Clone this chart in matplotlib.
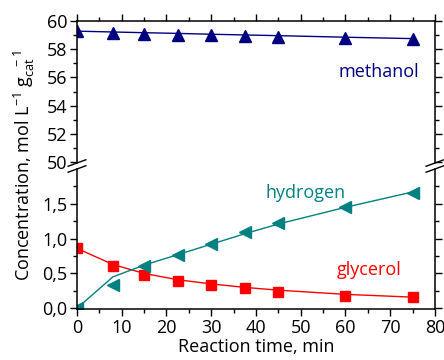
import numpy as np
import matplotlib
matplotlib.use("Agg")
import matplotlib.pyplot as plt
from matplotlib.ticker import MultipleLocator, FuncFormatter

plt.rcParams['font.family'] = ['Open Sans', 'DejaVu Sans']
plt.rcParams['mathtext.fontset'] = 'custom'
plt.rcParams['mathtext.rm'] = 'Open Sans'
plt.rcParams['mathtext.it'] = 'Open Sans'

# data
time = [0, 8, 15, 22.5, 30, 37.5, 45, 60, 75]
methanol = [59.31, 59.13, 59.08, 59.03, 58.99, 58.94, 58.90, 58.77, 58.70]
methanol_fit = [59.28, 59.22, 59.17, 59.12, 59.06, 59.01, 58.96, 58.85, 58.75]
glycerol = [0.86, 0.60, 0.48, 0.39, 0.34, 0.29, 0.235, 0.17, 0.16]
glycerol_fit = [0.86, 0.63, 0.50, 0.41, 0.35, 0.30, 0.26, 0.20, 0.16]
hydrogen = [0.0, 0.33, 0.61, 0.765, 0.93, 1.09, 1.22, 1.45, 1.65]
hydrogen_fit = [0.0, 0.45, 0.62, 0.77, 0.92, 1.07, 1.21, 1.45, 1.67]

navy = '#000080'
teal = '#008080'
red = '#ff0000'

fig = plt.figure(figsize=(4.44, 3.60), dpi=100)
ax_top = fig.add_axes([0.1734, 0.5472, 0.8063, 0.3945])
ax_bot = fig.add_axes([0.1734, 0.1417, 0.8063, 0.3889])

ax_top.plot(time, methanol_fit, color=navy, lw=1.0)
ax_top.plot(time, methanol, ls='none', marker='^', ms=8, color=navy)

ax_bot.plot(time, glycerol_fit, color=red, lw=1.0)
ax_bot.plot(time, glycerol, ls='none', marker='s', ms=7, color=red)
ax_bot.plot(time, hydrogen_fit, color=teal, lw=1.0)
ax_bot.plot(time, hydrogen, ls='none', marker='<', ms=8, color=teal)

comma = FuncFormatter(lambda v, p: f"{v:.1f}".replace('.', ','))

for ax in (ax_top, ax_bot):
    ax.set_xlim(0, 80)
    ax.xaxis.set_major_locator(MultipleLocator(10))
    ax.xaxis.set_minor_locator(MultipleLocator(5))
    ax.tick_params(which='both', direction='out', right=True, top=(ax is ax_top),
                   bottom=(ax is ax_bot), labelsize=13, pad=2)
    ax.tick_params(which='major', length=5, width=1)
    ax.tick_params(which='minor', length=3, width=1)
    for s in ax.spines.values():
        s.set_linewidth(1.1)

ax_top.set_ylim(49.93, 60)
ax_top.yaxis.set_major_locator(MultipleLocator(2))
ax_top.yaxis.set_minor_locator(MultipleLocator(1))
ax_top.spines['bottom'].set_visible(False)
ax_top.tick_params(labelbottom=False)

ax_bot.set_ylim(-0.01, 2.0)
ax_bot.set_yticks([0, 0.5, 1.0, 1.5])
ax_bot.set_yticks([0.25, 0.75, 1.25, 1.75], minor=True)
ax_bot.yaxis.set_major_formatter(comma)
ax_bot.spines['top'].set_visible(False)

# break marks
for xf in (0.1734, 0.9797):
    for yf in (0.5472, 0.5306):
        fig.add_artist(plt.Line2D([xf - 0.02, xf + 0.02], [yf - 0.009, yf + 0.009],
                                  color='k', lw=1.0))

ax_top.text(67.5, 56.4, 'methanol', color=navy, fontsize=13, ha='center', va='center')
ax_bot.text(51, 1.66, 'hydrogen', color=teal, fontsize=13, ha='center', va='center')
ax_bot.text(65.3, 0.55, 'glycerol', color=red, fontsize=13, ha='center', va='center')

ax_bot.set_xlabel('Reaction time, min', fontsize=13, labelpad=1)
fig.text(0.055, 0.54, r'Concentration, mol L$^{-1}$ g$_{\mathrm{cat}}^{\ \ -1}$',
         rotation=90, fontsize=13, ha='center', va='center')

fig.savefig('out.png', dpi=100)
